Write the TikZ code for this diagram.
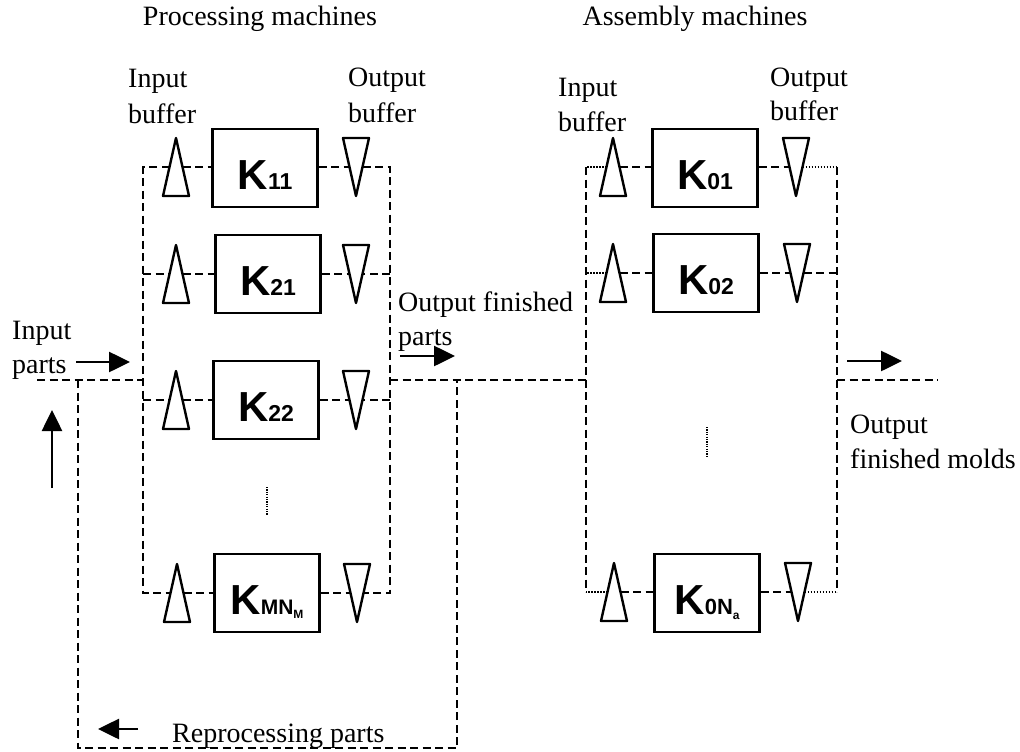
\documentclass[tikz,border=0pt]{standalone}
\usepackage{fontspec}
\setmainfont{Liberation Serif}
\newfontfamily\ksans{Liberation Sans}
\usetikzlibrary{calc,arrows.meta}
\begin{document}
\begin{tikzpicture}[x=1pt,y=-1pt,
  dl/.style={line width=2.4pt, dash pattern=on 8pt off 4.5pt},
  dt/.style={line width=1.6pt, dash pattern=on 1.5pt off 1.5pt},
  buf/.style={line width=2.4pt, line join=round},
  bufnode/.style={minimum width=26pt, minimum height=58pt, inner sep=0pt, outer sep=0pt},
  mach/.style={draw, line width=2.4pt, minimum width=105pt, minimum height=78pt, inner sep=0pt,
    text height=42pt, text depth=0pt, font=\ksans\bfseries\fontsize{42}{42}\selectfont},
  lab/.style={inner sep=0pt, anchor=base west, font=\fontsize{28}{34}\selectfont},
  arr/.style={line width=2.6pt, -{Triangle[length=21pt,width=20pt]}},
  vdots/.style={line width=1.4pt, dash pattern=on 1.2pt off 1.2pt}
]
\useasboundingbox (0,0) rectangle (1020,752);

% titles
\node[lab, anchor=base] (tp) at (260,26) {Processing machines};
\node[lab, anchor=base] (ta) at (695,26) {Assembly machines};

% buffer labels
\node[lab] (pib1) at (128,88) {Input};
\node[lab] (pib2) at (128,123) {buffer};
\node[lab] (pob1) at (348,87) {Output};
\node[lab] (pob2) at (348,122) {buffer};
\node[lab] (aib1) at (558,96) {Input};
\node[lab] (aib2) at (558,131) {buffer};
\node[lab] (aob1) at (770,86) {Output};
\node[lab] (aob2) at (770,121) {buffer};

% other labels
\node[lab] (inp1) at (12,339) {Input};
\node[lab] (inp2) at (12,373) {parts};
\node[lab] (ofp1) at (398,311) {Output finished};
\node[lab] (ofp2) at (398,345) {parts};
\node[lab] (ofm1) at (850,433) {Output};
\node[lab] (ofm2) at (850,468) {finished molds};
\node[lab] (rep) at (172,742) {Reprocessing parts};

% processing machines
\node[mach] (K11) at (265,168) {K{\fontsize{23}{23}\selectfont 11}};
\node[mach] (K21) at (268,274) {K{\fontsize{23}{23}\selectfont 21}};
\node[mach] (K22) at (266,400) {K{\fontsize{23}{23}\selectfont 22}};
\node[mach] (KMN) at (267,593) {K{\fontsize{21}{21}\selectfont MN\raisebox{-4pt}{\fontsize{12}{12}\selectfont M}}};
% assembly machines
\node[mach] (K01) at (705,168) {K{\fontsize{23}{23}\selectfont 01}};
\node[mach] (K02) at (706,273) {K{\fontsize{23}{23}\selectfont 02}};
\node[mach] (K0N) at (707,593) {K{\fontsize{22}{22}\selectfont 0N\raisebox{-5pt}{\fontsize{12}{12}\selectfont a}}};

% buffers
\node[bufnode] (pi1) at (176,167) {};
\node[bufnode] (pi2) at (176,274) {};
\node[bufnode] (pi3) at (176,400) {};
\node[bufnode] (pi4) at (177,593) {};
\node[bufnode] (po1) at (356,167) {};
\node[bufnode] (po2) at (356,274) {};
\node[bufnode] (po3) at (356,400) {};
\node[bufnode] (po4) at (357,593) {};
\node[bufnode] (ai1) at (613,167) {};
\node[bufnode] (ai2) at (613,273) {};
\node[bufnode] (ai3) at (614,592) {};
\node[bufnode] (ao1) at (796,167) {};
\node[bufnode] (ao2) at (797,273) {};
\node[bufnode] (ao3) at (798,592) {};

\foreach \n in {pi1,pi2,pi3,pi4,ai1,ai2,ai3} {
  \draw[buf] (\n.north) -- (\n.south east) -- (\n.south west) -- cycle;
  \coordinate (\n-l) at ($(\n.north)!.5!(\n.south west)$);
  \coordinate (\n-r) at ($(\n.north)!.5!(\n.south east)$);
}
\foreach \n in {po1,po2,po3,po4,ao1,ao2,ao3} {
  \draw[buf] (\n.north west) -- (\n.north east) -- (\n.south) -- cycle;
  \coordinate (\n-l) at ($(\n.north west)!.5!(\n.south)$);
  \coordinate (\n-r) at ($(\n.north east)!.5!(\n.south)$);
}

% junction coordinates
\coordinate (IN) at (37,380);
\coordinate (PL) at (143,380);
\coordinate (PR) at (390,380);
\coordinate (AL) at (586,380);
\coordinate (AR) at (837,380);
\coordinate (OUT) at (938,380);
\coordinate (LA) at (78,380);
\coordinate (LB) at (78,748);
\coordinate (LC) at (457,748);
\coordinate (LD) at (457,380);

% processing group frame
\draw[dl] (pi1-l) -- (pi1-l -| PL) -- (pi4-l -| PL) -- (pi4-l);
\draw[dl] (PL |- pi2-l) -- (pi2-l);
\draw[dl] (PL |- pi3-l) -- (pi3-l);
\draw[dl] (po1-r) -- (po1-r -| PR) -- (po4-r -| PR) -- (po4-r);
\draw[dl] (PR |- po2-r) -- (po2-r);
\draw[dl] (PR |- po3-r) -- (po3-r);
\foreach \i/\k in {1/K11,2/K21,3/K22,4/KMN} {
  \draw[dl] (pi\i-r) -- (pi\i-r -| \k.west);
  \draw[dl] (po\i-l -| \k.east) -- (po\i-l);
}

% assembly group frame
\draw[dl] (AL |- ai1-l) -- (AL |- ai3-l);
\draw[dt] (ai1-l) -- (AL |- ai1-l);
\draw[dt] (ai2-l) -- (AL |- ai2-l);
\draw[dt] (ai3-l) -- (AL |- ai3-l);
\draw[dl] (AR |- ao1-r) -- (AR |- ao3-r);
\draw[dt] (ao1-r) -- (AR |- ao1-r);
\draw[dl] (ao2-r) -- (AR |- ao2-r);
\draw[dt] (ao3-r) -- (AR |- ao3-r);
\foreach \i/\k in {1/K01,2/K02,3/K0N} {
  \draw[dl] (ai\i-r) -- (ai\i-r -| \k.west);
  \draw[dl] (ao\i-l -| \k.east) -- (ao\i-l);
}

% main flow line
\draw[dl] (IN) -- (PL);
\draw[dl] (PR) -- (AL);
\draw[dl] (AR) -- (OUT);
\draw[dl] (LA) -- (LB) -- (LC) -- (LD);

% vertical dots
\coordinate (d1a) at (267,487); \coordinate (d1b) at (267,515);
\coordinate (d2a) at (707,427); \coordinate (d2b) at (707,456);
\draw[vdots] (d1a) -- (d1b);
\draw[vdots] (d2a) -- (d2b);

% arrows
\coordinate (a1s) at (76,362);  \coordinate (a1e) at (130,362);
\coordinate (a2s) at (52,488);  \coordinate (a2e) at (52,410);
\coordinate (a3s) at (400,356); \coordinate (a3e) at (455,356);
\coordinate (a4s) at (847,361); \coordinate (a4e) at (902,361);
\coordinate (a5s) at (138,729); \coordinate (a5e) at (98,729);
\draw[arr] (a1s) -- (a1e);
\draw[arr] (a2s) -- (a2e);
\draw[arr] (a3s) -- (a3e);
\draw[arr] (a4s) -- (a4e);
\draw[arr] (a5s) -- (a5e);
\end{tikzpicture}
\end{document}
